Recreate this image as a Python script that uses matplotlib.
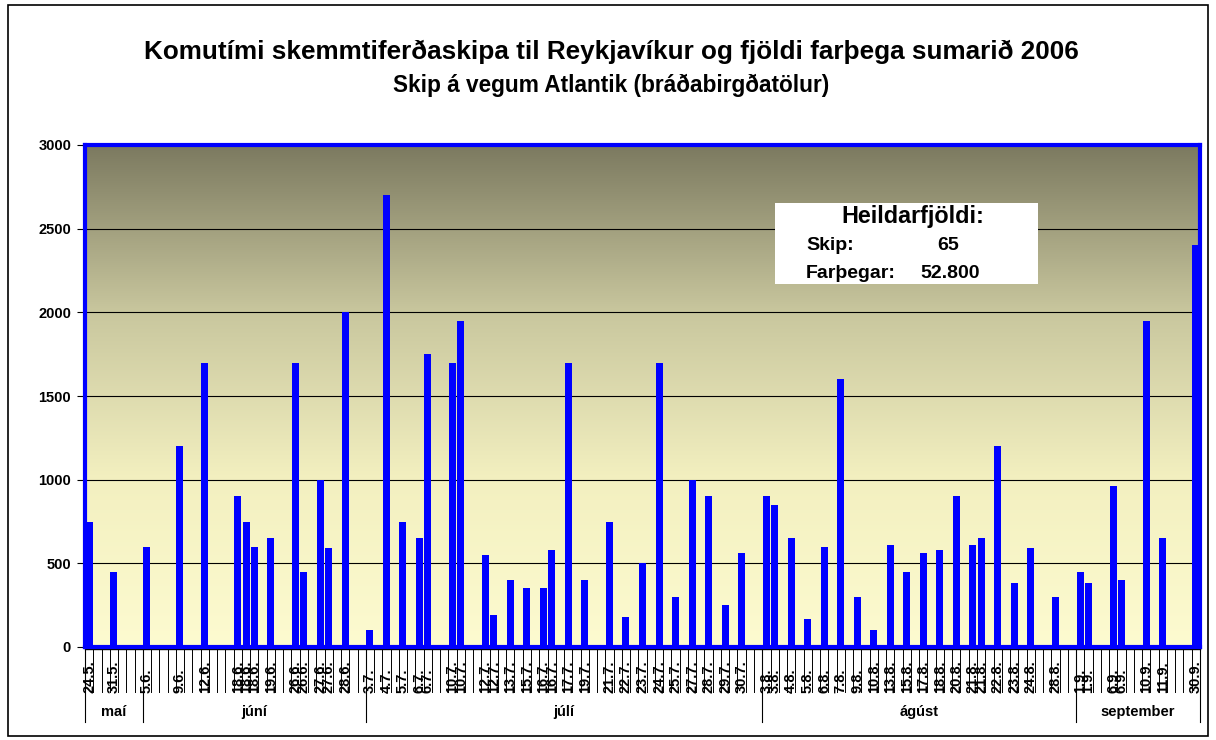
import numpy as np
import matplotlib
matplotlib.use('Agg')
from matplotlib import pyplot as plt
from matplotlib.colors import LinearSegmentedColormap
from matplotlib.patches import Rectangle
from matplotlib.transforms import blended_transform_factory

plt.rcParams['font.family'] = ['Liberation Sans', 'DejaVu Sans']

# flokkar a x-as (tomt = enginn koma), og farthegafjoldi
dagar = [
    '24.5.', '', '', '31.5.', '', '', '',
    '5.6.', '', '', '', '9.6.', '', '', '12.6.', '', '', '',
    '18.6.', '18.6.', '18.6.', '', '19.6.', '', '', '26.6.', '26.6.', '',
    '27.6.', '27.6.', '', '28.6.', '', '',
    '3.7.', '', '4.7.', '', '5.7.', '', '6.7.', '6.7.', '', '',
    '10.7.', '10.7.', '', '', '12.7.', '12.7.', '', '13.7.', '', '15.7.', '',
    '16.7.', '16.7.', '', '17.7.', '', '19.7.', '', '', '21.7.', '', '22.7.', '',
    '23.7.', '', '24.7.', '', '25.7.', '', '27.7.', '', '28.7.', '', '29.7.', '',
    '30.7.', '', '',
    '3.8.', '3.8.', '', '4.8.', '', '5.8.', '', '6.8.', '', '7.8.', '', '9.8.', '',
    '10.8.', '', '13.8.', '', '15.8.', '', '17.8.', '', '18.8.', '', '20.8.', '',
    '21.8.', '21.8.', '', '22.8.', '', '23.8.', '', '24.8.', '', '', '28.8.', '', '',
    '1.9.', '1.9.', '', '', '6.9.', '6.9.', '', '', '10.9.', '', '11.9.', '', '', '',
    '30.9.',
]
farthegar = [
    750, None, None, 450, None, None, None,
    600, None, None, None, 1200, None, None, 1700, None, None, None,
    900, 750, 600, None, 650, None, None, 1700, 450, None,
    1000, 590, None, 2000, None, None,
    100, None, 2700, None, 750, None, 650, 1750, None, None,
    1700, 1950, None, None, 550, 190, None, 400, None, 350, None,
    350, 580, None, 1700, None, 400, None, None, 750, None, 180, None,
    500, None, 1700, None, 300, None, 1000, None, 900, None, 250, None,
    560, None, None,
    900, 850, None, 650, None, 170, None, 600, None, 1600, None, 300, None,
    100, None, 610, None, 450, None, 560, None, 580, None, 900, None,
    610, 650, None, 1200, None, 380, None, 590, None, None, 300, None, None,
    450, 380, None, None, 960, 400, None, None, 1950, None, 650, None, None, None,
    2400,
]
manudir = ['maí', 'júní', 'júlí', 'ágúst', 'september']

n = len(dagar)
W, H = 1216, 740
fig = plt.figure(figsize=(W / 100, H / 100), dpi=100)
ax = fig.add_axes([85 / W, 1 - 647 / H, 1115 / W, 502 / H])

# bakgrunnur med litaskiptingu
cmap = LinearSegmentedColormap.from_list('bg', ['#fdfbd0', '#f3f0c0', '#c9c79e', '#7c7a60'])
grad = np.linspace(0, 1, 256).reshape(-1, 1)
ax.imshow(grad, extent=[-0.5, n - 0.5, 0, 3000], origin='lower', cmap=cmap,
          aspect='auto', zorder=0)

for yv in range(500, 3000, 500):
    ax.axhline(yv, color='black', lw=0.8, zorder=1)

xs = [i for i in range(n) if farthegar[i] is not None]
hs = [farthegar[i] for i in xs]
ax.bar(xs, hs, width=0.85, color='#0000ff', zorder=3)

ax.set_xlim(-0.5, n - 0.5)
ax.set_ylim(0, 3000)
ax.set_yticks(range(0, 3001, 500))
ax.tick_params(axis='y', length=6, width=0.8, labelsize=10.5, pad=4)
for t in ax.get_yticklabels():
    t.set_fontweight('bold')
ax.set_xticks([])

for s in ax.spines.values():
    s.set_color('#0000ff')
    s.set_linewidth(3)

trans = blended_transform_factory(ax.transData, ax.transAxes)
ax.plot([-0.5, n - 0.5], [-2 / 502, -2 / 502], transform=trans, color='black', lw=1, clip_on=False)

# dagsetningar, lesnar nedan fra upp
for i in xs:
    ax.text(i, -46 / 502, dagar[i], transform=trans, rotation=90, ha='center', va='bottom',
            fontsize=10.5, fontweight='bold')

for b in np.arange(n + 1) - 0.5:
    ax.plot([b, b], [0, -45 / 502], transform=trans, color='black', lw=0.7, clip_on=False)

# manadaskil
skil = [-0.5]
prev = None
for i in xs:
    m = int(dagar[i].split('.')[1])
    if prev is not None and m != prev:
        skil.append(i - 0.5)
    prev = m
skil.append(n - 0.5)
for b in skil:
    ax.plot([b, b], [0, -75 / 502], transform=trans, color='black', lw=0.8, clip_on=False)
for k, name in enumerate(manudir):
    ax.text((skil[k] + skil[k + 1]) / 2, -65 / 502, name, transform=trans,
            ha='center', va='center', fontsize=10.5, fontweight='bold')

# titill
fig.text(611 / W, 1 - 52 / H, 'Komutími skemmtiferðaskipa til Reykjavíkur og fjöldi farþega sumarið 2006',
         ha='center', va='center', fontsize=18.8, fontweight='bold')
fig.text(611 / W, 1 - 85 / H, 'Skip á vegum Atlantik (bráðabirgðatölur)',
         ha='center', va='center', fontsize=16.3, fontweight='bold')

# heildarfjoldi
fig.patches.append(Rectangle((775 / W, 1 - 284 / H), 263 / W, 81 / H, transform=fig.transFigure,
                             facecolor='white', edgecolor='none', zorder=5))
fig.text(913 / W, 1 - 217 / H, 'Heildarfjöldi:', ha='center', va='center',
         fontsize=16.8, fontweight='bold', zorder=6)
fig.text(806 / W, 1 - 246 / H, 'Skip:', ha='left', va='center', fontsize=14, fontweight='bold', zorder=6)
fig.text(948 / W, 1 - 246 / H, '65', ha='center', va='center', fontsize=14, fontweight='bold', zorder=6)
fig.text(806 / W, 1 - 273 / H, 'Farþegar:', ha='left', va='center', fontsize=14, fontweight='bold', zorder=6)
fig.text(950 / W, 1 - 273 / H, '52.800', ha='center', va='center', fontsize=14, fontweight='bold', zorder=6)

# ytri rammi
fig.patches.append(Rectangle((8 / W, 4 / H), 1200 / W, 731 / H, transform=fig.transFigure,
                             facecolor='none', edgecolor='black', lw=1.2))

fig.savefig('out.png', dpi=100)
